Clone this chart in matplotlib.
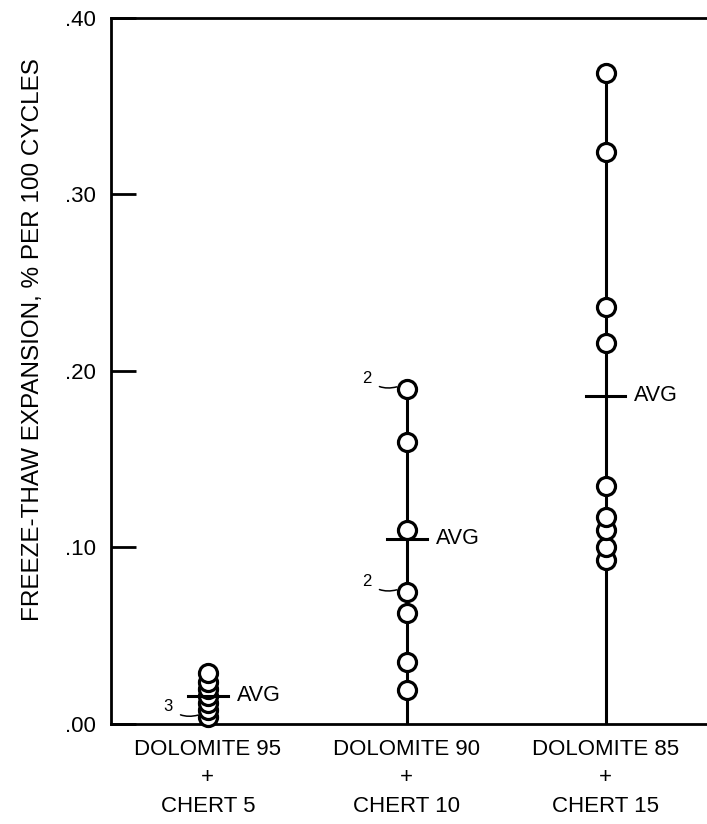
import numpy as np
import matplotlib
matplotlib.use('Agg')
import matplotlib.pyplot as plt

plt.rcParams['font.family'] = ['Liberation Sans', 'DejaVu Sans']

# Data
categories = ['DOLOMITE 95\n+\nCHERT 5', 'DOLOMITE 90\n+\nCHERT 10', 'DOLOMITE 85\n+\nCHERT 15']
group1 = [0.029, 0.024, 0.020, 0.016, 0.012, 0.008, 0.004]
group2 = [0.190, 0.160, 0.110, 0.075, 0.063, 0.035, 0.019]
group3 = [0.369, 0.324, 0.236, 0.216, 0.135, 0.117, 0.110, 0.100, 0.093]
averages = [0.016, 0.105, 0.186]
y_ticks = [0.0, 0.1, 0.2, 0.3, 0.4]
y_tick_labels = ['.00', '.10', '.20', '.30', '.40']
# multiplicity notes: (group index, value pointed at, label)
counts = [(1, 0.190, '2'), (1, 0.075, '2'), (0, 0.004, '3')]

groups = [group1, group2, group3]

fig = plt.figure(figsize=(7.07, 8.24), dpi=100)
ax = fig.add_axes([0.157, 0.1214, 0.843, 0.8568])

lw = 2.2
for i, vals in enumerate(groups):
    x = i + 1
    ax.vlines(x, 0, max(vals), color='black', lw=lw, zorder=2)
    ax.plot([x] * len(vals), sorted(vals), 'o', ms=13, mfc='white', mec='black',
            mew=2.3, zorder=3, clip_on=False)
    avg = averages[i]
    ax.plot([x - 0.1, x + 0.1], [avg, avg], color='black', lw=lw, zorder=4)
    ax.text(x + 0.145, avg, 'AVG', va='center', ha='left', fontsize=15.5)

for gi, val, lab in counts:
    x = gi + 1
    ax.annotate(lab, xy=(x - 0.05, val + 0.001), xytext=(x - 0.2, val + 0.006),
                fontsize=12, ha='center', va='center',
                arrowprops=dict(arrowstyle='-', connectionstyle='arc3,rad=0.3',
                                color='black', lw=1.1, shrinkA=4, shrinkB=0))

ax.set_xlim(0.513, 3.51)
ax.set_ylim(0, 0.40)
ax.set_yticks(y_ticks)
ax.set_yticklabels(y_tick_labels, fontsize=16)
ax.set_xticks([1, 2, 3])
ax.set_xticklabels(categories, fontsize=16, linespacing=1.45)
ax.tick_params(axis='y', direction='in', length=18, width=2, pad=11)
ax.tick_params(axis='x', length=0, pad=11)

for s in ['left', 'top', 'bottom']:
    ax.spines[s].set_linewidth(2)
ax.spines['right'].set_visible(False)

ax.set_ylabel('FREEZE-THAW EXPANSION, % PER 100 CYCLES', fontsize=17.5)
ax.yaxis.set_label_coords(-0.112, 0.544)

fig.savefig('out.png', dpi=100)
